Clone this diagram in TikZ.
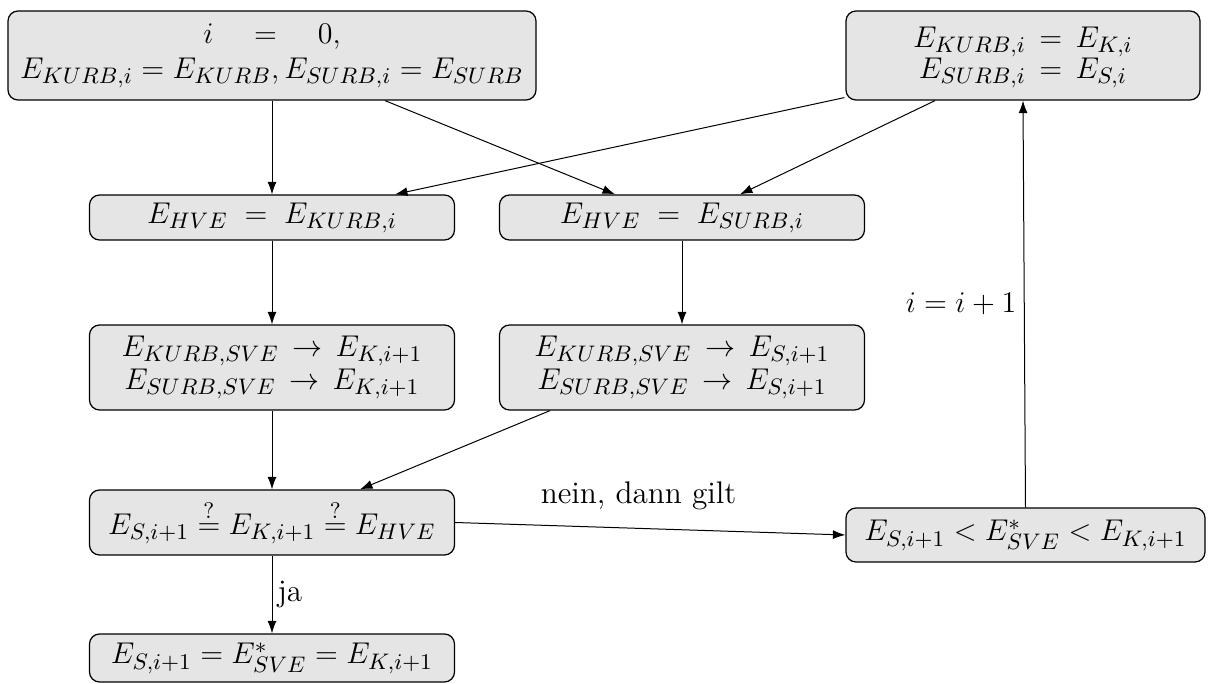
\documentclass[tikz,border=0pt]{standalone}
\usetikzlibrary{arrows.meta}
\begin{document}
\begin{tikzpicture}[x=0.4pt,y=-0.4pt,
  box/.style={draw,rounded corners=4pt,fill=black!10,line width=0.5pt,inner sep=0pt,align=center,font=\fontsize{13}{15.5}\selectfont},
  conn/.style={-{Latex[length=5pt,width=3.6pt]},line width=0.4pt},
  lbl/.style={font=\fontsize{12.5}{15}\selectfont,inner sep=1pt}]
\useasboundingbox (0,0) rectangle (1208,684);
\node[box,minimum width=211.2pt,minimum height=35.6pt] (A) at (272,55.5)
  {$i \quad = \quad 0,$\\[-1.5pt] $E_{KURB,i} = E_{KURB}, E_{SURB,i} = E_{SURB}$};
\node[box,minimum width=141.6pt,minimum height=35.6pt] (B) at (1023,55.5)
  {$\begin{array}{r@{\;\,=\;\,}l} E_{KURB,i} & E_{K,i}\\[-3pt] E_{SURB,i} & E_{S,i}\end{array}$};
\node[box,minimum width=146pt,minimum height=18pt] (C) at (272,217.5)
  {$E_{HVE} \;=\; E_{KURB,i}$};
\node[box,minimum width=146pt,minimum height=18pt] (D) at (682,217.5)
  {$E_{HVE} \;=\; E_{SURB,i}$};
\node[box,minimum width=146pt,minimum height=34pt] (E) at (272,367.5)
  {$E_{KURB,SVE} \,\rightarrow\, E_{K,i+1}$\\[-2pt] $E_{SURB,SVE} \,\rightarrow\, E_{K,i+1}$};
\node[box,minimum width=146pt,minimum height=34pt] (F) at (682,367.5)
  {$E_{KURB,SVE} \,\rightarrow\, E_{S,i+1}$\\[-2pt] $E_{SURB,SVE} \,\rightarrow\, E_{S,i+1}$};
\node[box,minimum width=146pt,minimum height=26pt] (G) at (272,522.5)
  {$E_{S,i+1} \stackrel{?}{=} E_{K,i+1} \stackrel{?}{=} E_{HVE}$};
\node[box,minimum width=143.6pt,minimum height=21.6pt] (H) at (1025.5,535)
  {$E_{S,i+1} < E^{*}_{SVE} < E_{K,i+1}$};
\node[box,minimum width=146pt,minimum height=19.2pt] (I) at (272,658)
  {$E_{S,i+1} = E^{*}_{SVE} = E_{K,i+1}$};
\draw[conn] (A.south) -- (C.north);
\draw[conn] ([xshift=45.2pt]A.south) -- ([xshift=-26.8pt]D.north);
\draw[conn] ([yshift=1.2pt,xshift=-0.4pt]B.south west) -- ([xshift=49.2pt]C.north);
\draw[conn] ([xshift=-35.2pt]B.south) -- ([xshift=23.2pt]D.north);
\draw[conn] (C.south) -- (E.north);
\draw[conn] (D.south) -- (F.north);
\draw[conn] (E.south) -- (G.north);
\draw[conn] ([xshift=-52.8pt]F.south) -- ([xshift=35.2pt]G.north);
\draw[conn] (G.east) -- node[lbl,above=6pt,pos=0.47] (nl) {nein, dann gilt} (H.west);
\draw[conn] (G.south) -- node[lbl,right=1pt,pos=0.5] (jl) {ja} (I.north);
\draw[conn] (H.north) -- node[lbl,left=2pt,pos=0.5] (il) {$i = i+1$} (B.south);
\end{tikzpicture}
\end{document}
